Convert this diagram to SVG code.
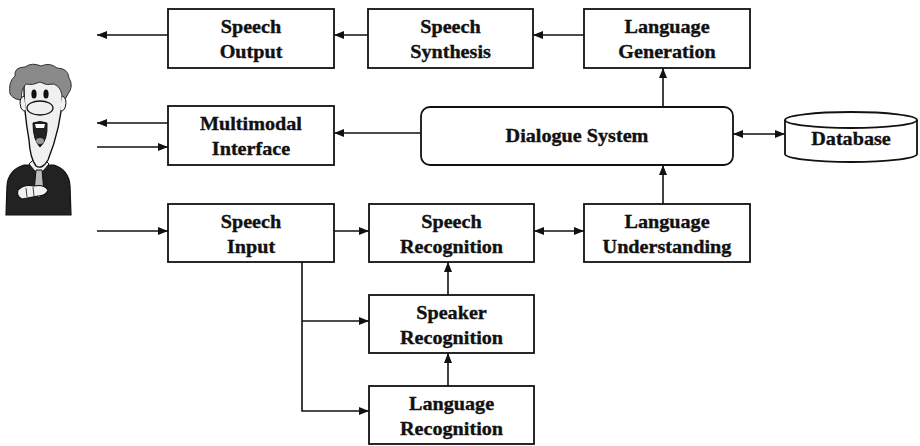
<svg xmlns="http://www.w3.org/2000/svg" width="920" height="446" viewBox="0 0 920 446">
  <defs>
    <style>
      .box { fill: #ffffff; stroke: #111; stroke-width: 1.8; }
      .ln { fill: none; stroke: #111; stroke-width: 1.6; }
      .t { font-family: "Liberation Serif", "Times New Roman", serif; font-weight: bold; font-size: 18px; fill: #111; stroke: #111; stroke-width: 0.35; text-anchor: middle; }
    </style>
    <marker id="ah" viewBox="0 0 10 8" refX="10" refY="4" markerWidth="10" markerHeight="8" markerUnits="userSpaceOnUse" orient="auto-start-reverse">
      <path d="M0,0 L10,4 L0,8 z" fill="#111"/>
    </marker>
  </defs>
  <rect width="920" height="446" fill="#ffffff"/>

  <!-- user figure -->
  <g id="user">
    <!-- suit -->
    <path d="M6,215 L7,186 Q8,170 24,165 L54,165 Q69,170 70,186 L71,215 Z" fill="#222" stroke="#111" stroke-width="1.2"/>
    <!-- shirt collar and tie -->
    <path d="M29,164 L39,176 L49,164 L45,160 L33,160 Z" fill="#f2f2f2" stroke="#111" stroke-width="1"/>
    <path d="M36,170 L42,170 L44,192 L39,198 L34,192 Z" fill="#bbb" stroke="#111" stroke-width="1"/>
    <!-- hand -->
    <path d="M18,190 Q24,184 34,186 Q44,184 48,190 Q46,196 38,196 L22,199 Q16,196 18,190 Z" fill="#f2f2f2" stroke="#111" stroke-width="1.1"/>
    <path d="M26,188 L27,197 M33,187 L34,196" stroke="#111" stroke-width="0.8" fill="none"/>
    <!-- face -->
    <path d="M24,88 Q24,76 43,76 Q64,76 63,92 Q61,128 48,160 Q42,170 36,166 Q30,158 29,140 Q24,112 24,88 Z" fill="#f0f0f0" stroke="#111" stroke-width="1.4"/>
    <!-- hair -->
    <path d="M10,94 Q8,82 15,76 Q14,67 25,67 Q32,62 41,66 Q50,62 57,68 Q68,68 69,78 Q74,86 68,94 Q66,100 62,100 Q63,88 54,84 Q46,86 40,82 Q32,86 26,84 Q20,90 22,100 Q14,100 10,94 Z" fill="#8a8a8a" stroke="#333" stroke-width="1"/>
    <!-- ears -->
    <path d="M24,96 Q18,98 21,108 Q23,112 26,111" fill="#f0f0f0" stroke="#111" stroke-width="1"/>
    <path d="M62,96 Q68,98 65,108 Q63,112 60,111" fill="#f0f0f0" stroke="#111" stroke-width="1"/>
    <!-- eyes -->
    <ellipse cx="34" cy="94" rx="2.6" ry="4.5" fill="#111"/>
    <ellipse cx="46" cy="94" rx="2.6" ry="4.5" fill="#111"/>
    <!-- nose -->
    <ellipse cx="40" cy="108" rx="13" ry="7" fill="#f0f0f0" stroke="#111" stroke-width="1.3"/>
    <!-- mouth -->
    <path d="M33,123 Q40,120 47,123 Q48,140 40,147 Q33,140 33,123 Z" fill="#222" stroke="#111" stroke-width="1"/>
    <path d="M35,124 L45,124 L44,128 L36,128 Z" fill="#ffffff"/>
    <ellipse cx="40" cy="141" rx="4" ry="3" fill="#999"/>
  </g>

  <!-- blocks -->
  <g id="speech-output">
    <rect class="box" x="168" y="9" width="166" height="59"/>
    <text class="t" transform="translate(251,33) scale(1.12,1)">Speech</text>
    <text class="t" transform="translate(251,58) scale(1.12,1)">Output</text>
  </g>
  <g id="speech-synthesis">
    <rect class="box" x="368" y="9" width="165" height="59"/>
    <text class="t" transform="translate(450.5,33) scale(1.12,1)">Speech</text>
    <text class="t" transform="translate(450.5,58) scale(1.12,1)">Synthesis</text>
  </g>
  <g id="language-generation">
    <rect class="box" x="584" y="9" width="166" height="59"/>
    <text class="t" transform="translate(667,33) scale(1.12,1)">Language</text>
    <text class="t" transform="translate(667,58) scale(1.12,1)">Generation</text>
  </g>
  <g id="multimodal-interface">
    <rect class="box" x="168" y="106" width="166" height="59"/>
    <text class="t" transform="translate(251,130) scale(1.12,1)">Multimodal</text>
    <text class="t" transform="translate(251,155) scale(1.12,1)">Interface</text>
  </g>
  <g id="dialogue-system">
    <rect class="box" x="421" y="107" width="312" height="58" rx="9" ry="9"/>
    <text class="t" transform="translate(577,142) scale(1.12,1)">Dialogue System</text>
  </g>
  <g id="database">
    <path class="box" d="M785,120 L785,154 A66,8 0 0 0 917,154 L917,120"/>
    <ellipse class="box" cx="851" cy="120" rx="66" ry="8"/>
    <text class="t" transform="translate(851,145) scale(1.12,1)">Database</text>
  </g>
  <g id="speech-input">
    <rect class="box" x="168" y="204" width="166" height="58"/>
    <text class="t" transform="translate(251,228) scale(1.12,1)">Speech</text>
    <text class="t" transform="translate(251,253) scale(1.12,1)">Input</text>
  </g>
  <g id="speech-recognition">
    <rect class="box" x="369" y="204" width="165" height="58"/>
    <text class="t" transform="translate(451.5,228) scale(1.12,1)">Speech</text>
    <text class="t" transform="translate(451.5,253) scale(1.12,1)">Recognition</text>
  </g>
  <g id="language-understanding">
    <rect class="box" x="584" y="204" width="166" height="58"/>
    <text class="t" transform="translate(667,228) scale(1.12,1)">Language</text>
    <text class="t" transform="translate(667,253) scale(1.12,1)">Understanding</text>
  </g>
  <g id="speaker-recognition">
    <rect class="box" x="369" y="295" width="165" height="58"/>
    <text class="t" transform="translate(451.5,319) scale(1.12,1)">Speaker</text>
    <text class="t" transform="translate(451.5,344) scale(1.12,1)">Recognition</text>
  </g>
  <g id="language-recognition">
    <rect class="box" x="369" y="386" width="165" height="58"/>
    <text class="t" transform="translate(451.5,410) scale(1.12,1)">Language</text>
    <text class="t" transform="translate(451.5,435) scale(1.12,1)">Recognition</text>
  </g>

  <!-- connectors -->
  <g id="connectors">
    <line class="ln" x1="168" y1="35" x2="97" y2="35" marker-end="url(#ah)"/>
    <line class="ln" x1="368" y1="35" x2="334" y2="35" marker-end="url(#ah)"/>
    <line class="ln" x1="584" y1="35" x2="533" y2="35" marker-end="url(#ah)"/>
    <line class="ln" x1="663" y1="107" x2="663" y2="68" marker-end="url(#ah)"/>
    <line class="ln" x1="421" y1="133" x2="334" y2="133" marker-end="url(#ah)"/>
    <line class="ln" x1="733" y1="134" x2="785" y2="134" marker-start="url(#ah)" marker-end="url(#ah)"/>
    <line class="ln" x1="168" y1="123" x2="97" y2="123" marker-end="url(#ah)"/>
    <line class="ln" x1="97" y1="147" x2="168" y2="147" marker-end="url(#ah)"/>
    <line class="ln" x1="97" y1="231" x2="168" y2="231" marker-end="url(#ah)"/>
    <line class="ln" x1="334" y1="231" x2="369" y2="231" marker-end="url(#ah)"/>
    <line class="ln" x1="534" y1="231" x2="584" y2="231" marker-start="url(#ah)" marker-end="url(#ah)"/>
    <line class="ln" x1="663" y1="204" x2="663" y2="165" marker-end="url(#ah)"/>
    <line class="ln" x1="448" y1="295" x2="448" y2="262" marker-end="url(#ah)"/>
    <line class="ln" x1="448" y1="386" x2="448" y2="353" marker-end="url(#ah)"/>
    <polyline class="ln" points="302,262 302,411 369,411" marker-end="url(#ah)"/>
    <line class="ln" x1="302" y1="321" x2="369" y2="321" marker-end="url(#ah)"/>
  </g>
</svg>
